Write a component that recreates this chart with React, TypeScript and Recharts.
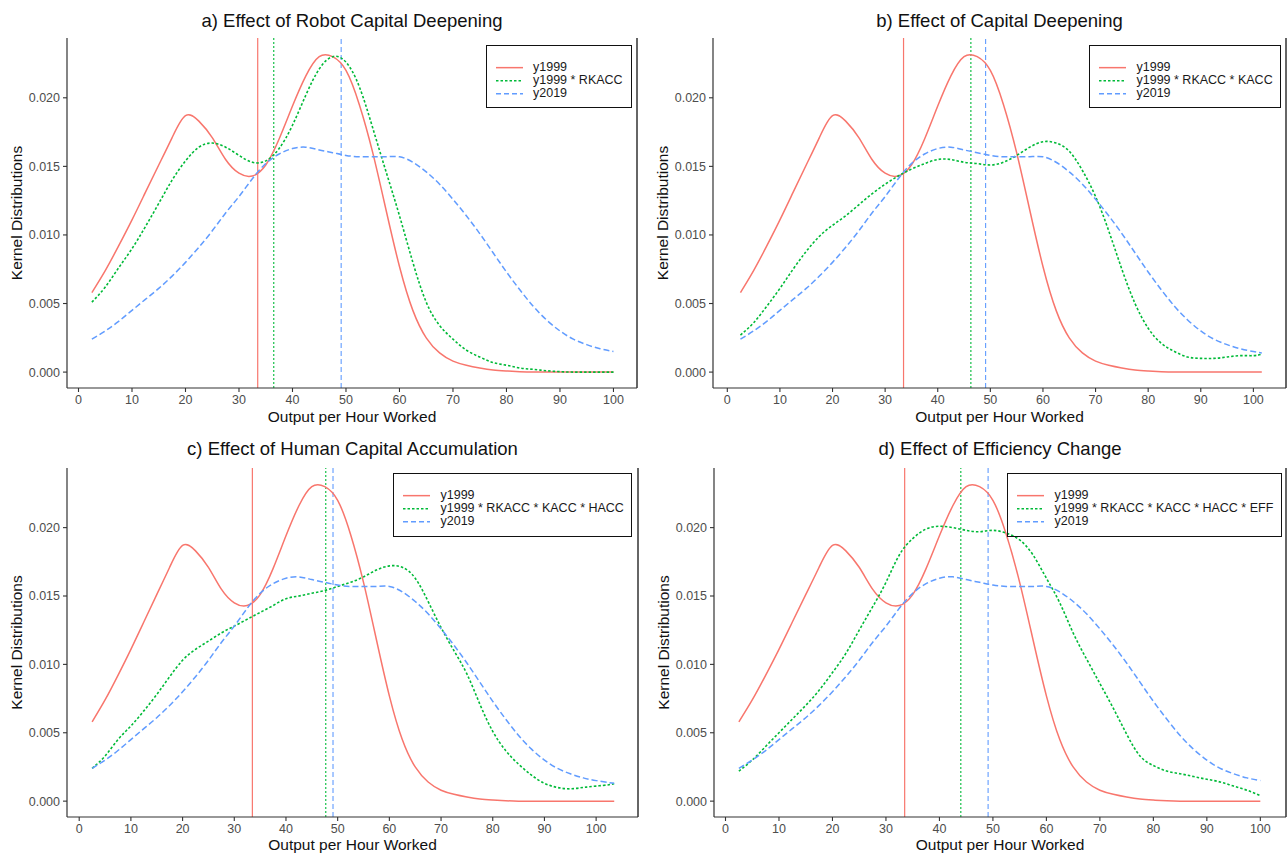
import { LineChart, Line, XAxis, YAxis, ReferenceLine, Label } from "recharts";

// output per hour worked (shared grid for the density curves)
const xGrid = [
  2.5, 5, 7.5, 10, 12.5, 15, 17.5, 20, 22.5, 25, 27.5, 30, 32.5, 35, 37.5, 40,
  42.5, 45, 47.5, 50, 52.5, 55, 57.5, 60, 62.5, 65, 67.5, 70, 72.5, 75, 77.5,
  80, 82.5, 85, 87.5, 90, 92.5, 95, 97.5, 100,
];

const y1999 = [
  0.0058, 0.0074, 0.0092, 0.0111, 0.0131, 0.0151, 0.0171, 0.0187, 0.0183,
  0.0171, 0.0155, 0.0145, 0.0143, 0.0151, 0.017, 0.0194, 0.0216, 0.023, 0.023,
  0.022, 0.0195, 0.016, 0.0118, 0.0077, 0.0045, 0.0025, 0.0014, 0.0008, 0.0005,
  0.0003, 0.00015, 0.00008, 0.00003, 0, 0, 0, 0, 0, 0, 0,
];

const y2019 = [
  0.0024, 0.003, 0.0037, 0.0045, 0.0053, 0.0061, 0.007, 0.008, 0.0091, 0.0103,
  0.0116, 0.0128, 0.0141, 0.0152, 0.0159, 0.0163, 0.0164, 0.0162, 0.016,
  0.0158, 0.0157, 0.0157, 0.0157, 0.0157, 0.0153, 0.0146, 0.0137, 0.0126,
  0.0114, 0.0101, 0.0087, 0.0073, 0.006, 0.0048, 0.0038, 0.003, 0.0024, 0.002,
  0.0017, 0.0015,
];

const yRkacc = [
  0.0051, 0.0062, 0.0076, 0.009, 0.0106, 0.0123, 0.014, 0.0154, 0.0164, 0.0167,
  0.0164, 0.0158, 0.0153, 0.0154, 0.0163, 0.018, 0.0202, 0.0221, 0.023, 0.0226,
  0.0208, 0.0178, 0.0146, 0.0114, 0.008, 0.0051, 0.0034, 0.0024, 0.0016,
  0.0011, 0.0007, 0.0005, 0.0003, 0.0002, 0.0001, 0.00003, 0, 0, 0, 0,
];

const yRkaccKacc = [
  0.0027, 0.0036, 0.0048, 0.0061, 0.0075, 0.0088, 0.0099, 0.0107, 0.0114,
  0.0122, 0.013, 0.0137, 0.0143, 0.0148, 0.0152, 0.0155, 0.0155, 0.0153,
  0.0152, 0.0151, 0.0153, 0.0158, 0.0164, 0.0168, 0.0167, 0.0161, 0.0147,
  0.0128, 0.0103, 0.0075, 0.005, 0.0032, 0.0021, 0.0015, 0.0011, 0.001, 0.001,
  0.0011, 0.0012, 0.0012,
];

const yRkaccKaccHacc = [
  0.0024, 0.0033, 0.0045, 0.0055, 0.0066, 0.0078, 0.0091, 0.0103, 0.0111,
  0.0117, 0.0123, 0.0128, 0.0133, 0.0138, 0.0143, 0.0148, 0.015, 0.0152,
  0.0154, 0.0157, 0.016, 0.0164, 0.0169, 0.0172, 0.0171, 0.0163, 0.0146,
  0.0127, 0.011, 0.0093, 0.0071, 0.0051, 0.0037, 0.0027, 0.0019, 0.0013,
  0.001, 0.0009, 0.001, 0.0011,
];

const yRkaccKaccHaccEff = [
  0.0022, 0.003, 0.004, 0.005, 0.006, 0.007, 0.0081, 0.0094, 0.0108, 0.0125,
  0.0142, 0.016, 0.018, 0.0192, 0.0199, 0.0201, 0.02, 0.0198, 0.0197, 0.0198,
  0.0196, 0.0191, 0.018, 0.0163, 0.0145, 0.0123, 0.0104, 0.0086, 0.0068,
  0.0049, 0.0033, 0.0026, 0.0022, 0.002, 0.0018, 0.0016, 0.0014, 0.0011,
  0.0008, 0.0004,
];

// panels b and c run a little past 100
const xTailB = [101.6];
const y1999TailB = [0];
const y2019TailB = [0.0014];
const greenTailB = [0.0013];

const xTailC = [102.5, 103.5];
const y1999TailC = [0, 0];
const y2019TailC = [0.00135, 0.0013];
const greenTailC = [0.0012, 0.0013];

// vertical mean lines
const meanY1999 = 33.5;
const meanY2019 = 49.1;
const meanGreen = [36.5, 46.3, 47.7, 44.0];

const titles = [
  "a) Effect of Robot Capital Deepening",
  "b) Effect of Capital Deepening",
  "c) Effect of Human Capital Accumulation",
  "d) Effect of Efficiency Change",
];

const greenLabels = [
  "y1999 * RKACC",
  "y1999 * RKACC * KACC",
  "y1999 * RKACC * KACC * HACC",
  "y1999 * RKACC * KACC * HACC * EFF",
];

const xTicks = [0, 10, 20, 30, 40, 50, 60, 70, 80, 90, 100];
const yTicks = [0, 0.005, 0.01, 0.015, 0.02];
const yDomain: [number, number] = [-0.00116, 0.02436];

const RED = "#F8766D";
const GREEN = "#00BA38";
const BLUE = "#619CFF";
const FONT = '"Liberation Sans", Arial, Helvetica, sans-serif';

function buildRows(xs: number[], red: number[], green: number[], blue: number[]) {
  return xs.map((x, i) => ({ x, y1999: red[i], mix: green[i], y2019: blue[i] }));
}

const panelData = [
  buildRows(xGrid, y1999, yRkacc, y2019),
  buildRows([...xGrid, ...xTailB], [...y1999, ...y1999TailB], [...yRkaccKacc, ...greenTailB], [...y2019, ...y2019TailB]),
  buildRows([...xGrid, ...xTailC], [...y1999, ...y1999TailC], [...yRkaccKaccHacc, ...greenTailC], [...y2019, ...y2019TailC]),
  buildRows(xGrid, y1999, yRkaccKaccHaccEff, y2019),
];

// layout of the four panels (page pixels)
const panels = [
  { left: 0, top: 0, width: 643, height: 430, plotLeft: 67, plotRight: 637, plotTop: 38, plotBottom: 388, xDomain: [-2.15, 104.4], titleCap: 21.2, ylabX: 16.5, legend: { left: 485.5, top: 45, width: 146, height: 63 } },
  { left: 643, top: 0, width: 644, height: 430, plotLeft: 713, plotRight: 1286, plotTop: 38, plotBottom: 388, xDomain: [-2.72, 106.2], titleCap: 21.2, ylabX: 19.5, legend: { left: 446, top: 45, width: 191.5, height: 63 } },
  { left: 0, top: 430, width: 643, height: 428, plotLeft: 67, plotRight: 638, plotTop: 468, plotBottom: 817, xDomain: [-2.36, 108.1], titleCap: 18.8, ylabX: 16.5, legend: { left: 393, top: 43.3, width: 239, height: 63.4 } },
  { left: 643, top: 430, width: 644, height: 428, plotLeft: 714, plotRight: 1286, plotTop: 468, plotBottom: 817, xDomain: [-2.15, 104.8], titleCap: 18.8, ylabX: 20.5, legend: { left: 364, top: 43.3, width: 274.7, height: 63.4 } },
];

function LegendBox({ box, labels }: { box: any; labels: string[] }) {
  const styles = [
    { color: RED, dash: undefined },
    { color: GREEN, dash: "2.5 2" },
    { color: BLUE, dash: "5 3" },
  ];
  return (
    <div
      style={{
        position: "absolute",
        left: box.left,
        top: box.top,
        width: box.width,
        height: box.height,
        border: "1.5px solid #111",
        boxSizing: "border-box",
        fontSize: 12.5,
        color: "#1a1a1a",
      }}
    >
      {labels.map((lab, i) => (
        <div
          key={lab + i}
          style={{
            position: "absolute",
            left: 0,
            top: 22.7 + i * 13.3 - 6.65 - 1.5,
            height: 13.3,
            lineHeight: "13.3px",
            whiteSpace: "nowrap",
          }}
        >
          <svg width={40} height={13.3} style={{ position: "absolute", left: 9, top: 0 }}>
            <line x1={0} x2={27} y1={6.65} y2={6.65} stroke={styles[i].color} strokeWidth={1.5} strokeDasharray={styles[i].dash} />
          </svg>
          <span style={{ position: "absolute", left: 46.5, top: 0 }}>{lab}</span>
        </div>
      ))}
    </div>
  );
}

function Panel({ idx }: { idx: number }) {
  const p = panels[idx];
  const data = panelData[idx];
  const yAxisWidth = p.plotLeft - p.left;
  const xAxisHeight = p.top + p.height - p.plotBottom;
  const fontSize = 18.5;
  return (
    <div style={{ position: "absolute", left: p.left, top: p.top, width: p.width, height: p.height }}>
      <LineChart
        width={p.width}
        height={p.height}
        data={data}
        margin={{ top: p.plotTop - p.top, right: p.left + p.width - p.plotRight, left: 0, bottom: 0 }}
      >
        <XAxis
          type="number"
          dataKey="x"
          domain={p.xDomain as [number, number]}
          ticks={xTicks}
          interval={0}
          allowDataOverflow
          height={xAxisHeight}
          tickSize={4}
          tickMargin={3}
          axisLine={{ stroke: "#333", strokeWidth: 1.2 }}
          tickLine={{ stroke: "#333", strokeWidth: 1.1 }}
          tick={{ fill: "#4d4d4d", fontSize: 12.5 }}
        >
          <Label value="Output per Hour Worked" position="insideBottom" offset={8.3} fill="#111" fontSize={15.5} />
        </XAxis>
        <YAxis
          type="number"
          domain={yDomain}
          ticks={yTicks}
          interval={0}
          allowDataOverflow
          width={yAxisWidth}
          tickSize={4}
          tickMargin={3}
          tickFormatter={(v: number) => v.toFixed(3)}
          axisLine={{ stroke: "#333", strokeWidth: 1.2 }}
          tickLine={{ stroke: "#333", strokeWidth: 1.1 }}
          tick={{ fill: "#4d4d4d", fontSize: 12.5 }}
        >
          <Label
            value="Kernel Distributions"
            angle={-90}
            position="insideLeft"
            offset={p.ylabX}
            fill="#111"
            fontSize={15.5}
            style={{ textAnchor: "middle" }}
          />
        </YAxis>
        <ReferenceLine x={meanY1999} stroke={RED} strokeWidth={1.2} />
        <ReferenceLine x={meanGreen[idx]} stroke={GREEN} strokeWidth={1.1} strokeDasharray="2 2" />
        <ReferenceLine x={meanY2019} stroke={BLUE} strokeWidth={1.1} strokeDasharray="5 3" />
        <ReferenceLine x={p.xDomain[1]} stroke="#333" strokeWidth={1.5} />
        <Line type="natural" dataKey="y1999" stroke={RED} strokeWidth={1.5} dot={false} isAnimationActive={false} />
        <Line type="natural" dataKey="mix" stroke={GREEN} strokeWidth={1.6} strokeDasharray="2.5 2" dot={false} isAnimationActive={false} />
        <Line type="natural" dataKey="y2019" stroke={BLUE} strokeWidth={1.5} strokeDasharray="6 3" dot={false} isAnimationActive={false} />
      </LineChart>
      <div
        style={{
          position: "absolute",
          left: p.plotLeft - p.left,
          width: p.plotRight - p.plotLeft,
          top: p.titleCap - 9.05,
          fontSize,
          lineHeight: `${fontSize}px`,
          textAlign: "center",
          color: "#111",
          whiteSpace: "nowrap",
        }}
      >
        {titles[idx]}
      </div>
      <LegendBox box={p.legend} labels={["y1999", greenLabels[idx], "y2019"]} />
    </div>
  );
}

export default function App() {
  return (
    <div
      style={{
        position: "absolute",
        left: 0,
        top: 0,
        width: 1287,
        height: 858,
        background: "#fff",
        fontFamily: FONT,
        overflow: "hidden",
      }}
    >
      {panels.map((_, i) => (
        <Panel key={i} idx={i} />
      ))}
    </div>
  );
}
